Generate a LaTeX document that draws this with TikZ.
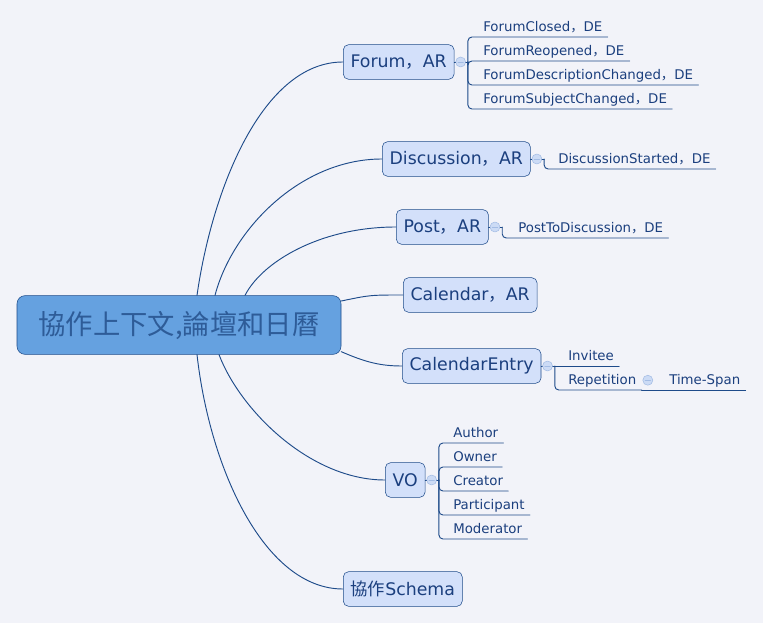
\documentclass[tikz,border=0pt]{standalone}
\usepackage{fontspec}
\setmainfont{DejaVu Sans}
\newfontfamily\cjk{Noto Sans CJK TC}
\newfontfamily\cjkp{Noto Sans CJK SC}
\usetikzlibrary{positioning}
\definecolor{bgcol}{HTML}{F2F3F9}
\definecolor{ink}{HTML}{1B3F7E}
\definecolor{edge}{HTML}{1E4B8A}
\definecolor{topicfill}{HTML}{D3E0FA}
\definecolor{rootfill}{HTML}{65A1E0}
\definecolor{roottext}{HTML}{2E5C98}
\definecolor{foldfill}{HTML}{CCDBF5}
\definecolor{folddraw}{HTML}{A3BCE4}
\newcommand{\fwc}{{\cjkp ，}}
\begin{document}
\begin{tikzpicture}[x=0.75pt,y=-0.75pt, line join=round, line cap=round,
	root/.style={draw=edge, fill=rootfill, rounded corners=6pt, minimum width=243pt, minimum height=44pt, font=\cjk\fontsize{20.5}{24}\selectfont, text=roottext},
	topic/.style={draw=edge, fill=topicfill, rounded corners=4pt, minimum height=26pt, inner xsep=5.5pt, font=\fontsize{13}{16}\selectfont, text=ink, anchor=west},
	sub/.style={anchor=south west, inner xsep=3.75pt, inner ysep=3pt, text height=7pt, text depth=1.25pt, font=\fontsize{10}{12}\selectfont, text=ink},
	fold/.style={circle, draw=folddraw, fill=foldfill, inner sep=0pt, minimum size=7.5pt, right=0.75pt of #1, path picture={\draw[folddraw, line width=0.6pt] ([xshift=-2pt]path picture bounding box.center) -- ([xshift=2pt]path picture bounding box.center);}},
	link/.style={draw=edge, line width=0.7pt},
	branch/.style={draw=edge, line width=0.7pt, rounded corners=3pt}]
	\useasboundingbox[fill=bgcol] (0,0) rectangle (763,623);
	\node[root] (ct) at (179,325) {協作上下文,論壇和日曆};
	\node[topic] (fo) at (343,62) {Forum\fwc AR};
	\node[topic] (di) at (382,159) {Discussion\fwc AR};
	\node[topic] (po) at (396,227) {Post\fwc AR};
	\node[topic] (ca) at (403,295) {Calendar\fwc AR};
	\node[topic] (ce) at (402,366) {CalendarEntry};
	\node[topic] (vo) at (385,480) {VO};
	\node[topic] (sc) at (343,589) {{\cjk 協作}Schema};
	\draw[link] ([xshift=13.5pt]ct.north) .. controls (212,190) and (262,62) .. (fo.west);
	\draw[link] ([xshift=27pt]ct.north) .. controls (232,230) and (300,159) .. (di.west);
	\draw[link] ([xshift=49.5pt]ct.north) .. controls (262,262) and (320,227) .. (po.west);
	\draw[link] ([yshift=18pt]ct.east) .. controls (370,295) .. (ca.west);
	\draw[link] ([yshift=-20pt]ct.east) .. controls (365,362) and (380,366) .. (ce.west);
	\draw[link] ([xshift=30pt]ct.south) .. controls (240,410) and (310,480) .. (vo.west);
	\draw[link] ([xshift=13.5pt]ct.south) .. controls (210,470) and (265,589) .. (sc.west);
	\node[sub] (fc) at (478,37) {ForumClosed\fwc DE};
	\node[sub] (fr) at (478,61) {ForumReopened\fwc DE};
	\node[sub] (fd) at (478,85) {ForumDescriptionChanged\fwc DE};
	\node[sub] (fs) at (478,109) {ForumSubjectChanged\fwc DE};
	\node[sub] (ds) at (553,169) {DiscussionStarted\fwc DE};
	\node[sub] (pd) at (513,238) {PostToDiscussion\fwc DE};
	\node[sub] (iv) at (563,366) {Invitee};
	\node[sub] (rp) at (563,390) {Repetition};
	\node[sub] (ts) at (664,390) {Time-Span};
	\node[sub] (au) at (448,443) {Author};
	\node[sub] (ow) at (448,467) {Owner};
	\node[sub] (cr) at (448,491) {Creator};
	\node[sub] (pa) at (448,515) {Participant};
	\node[sub] (mo) at (448,539) {Moderator};
	\foreach \p in {fo,di,po,ce,vo}{
		\node[fold=\p] (\p-f) {};
		\draw[link] (\p.east) -- (\p-f.west);
		\draw[link] (\p-f.east) -- ++(2,0) coordinate (\p-j);
	}
	\node[fold=rp] (rp-f) {};
	\foreach \p/\c in {fo/fc,fo/fr,fo/fd,fo/fs,di/ds,po/pd,ce/rp,vo/au,vo/ow,vo/cr,vo/pa,vo/mo}
		\draw[branch] (\p-j) |- (\c.south east);
	\draw[link] (ce-j) -- (iv.south east);
	\draw[link] (rp.south east) -- (ts.south east);
\end{tikzpicture}
\end{document}
